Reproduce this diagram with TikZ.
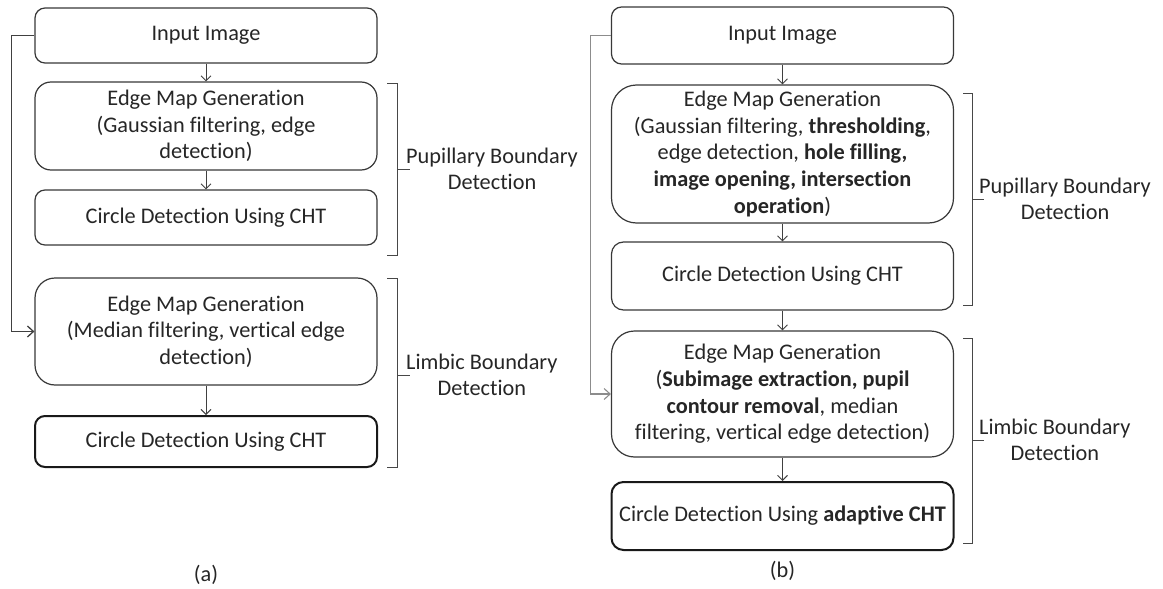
\documentclass[tikz,border=0pt]{standalone}
\usepackage{fontspec}
\setmainfont{Carlito}[RawFeature={-liga;-clig;-dlig;-calt}]
\usetikzlibrary{arrows.meta}

\begin{document}
\begin{tikzpicture}[x=1pt,y=-1pt,
  box/.style={draw=black!78, line width=1.2pt, fill=white, align=center,
    inner sep=0pt, minimum width=342pt, text=black!85,
    font=\fontsize{22.3}{26.6}\selectfont},
  lastbox/.style={box, line width=2pt, draw=black!90},
  flow/.style={draw=black!75, line width=0.9pt,
    -{Straight Barb[length=5pt,width=10pt]}},
  feed/.style={draw=black!75, line width=1.3pt,
    -{Straight Barb[length=6pt,width=11pt]}},
  feedlight/.style={draw=black!45, line width=1.1pt,
    -{Straight Barb[length=6pt,width=11pt]}},
  brace/.style={draw=black!72, line width=1pt},
  tag/.style={align=center, inner sep=0pt, text=black!85,
    font=\fontsize{22.3}{26.6}\selectfont},
]
\useasboundingbox (0,0) rectangle (1163,589);

% ---------- panel (a) ----------
\node[box, minimum height=55pt, rounded corners=10pt] (ia) at (206,35.5) {Input Image};
\node[box, minimum height=88pt, rounded corners=16pt] (ea1) at (206,126)
  {Edge Map Generation\\(Gaussian filtering, edge\\detection)};
\node[box, minimum height=55pt, rounded corners=10pt] (ca1) at (206,217.5)
  {Circle Detection Using CHT};
\node[box, minimum height=107pt, rounded corners=20pt] (ea2) at (206,331.5)
  {Edge Map Generation\\(Median filtering, vertical edge\\detection)};
\node[lastbox, minimum height=51pt, rounded corners=10pt] (ca2) at (206,441.5)
  {Circle Detection Using CHT};

\draw[flow] (ia) -- (ea1);
\draw[flow] (ea1) -- (ca1);
\draw[flow] (ea2) -- (ca2);
\draw[feed] (ia.west) -- ++(-23,0) |- (ea2.west);

% group brackets of panel (a)
\draw[brace] (387,83) -- (397,83) -- (397,255) -- (387,255);
\draw[brace] (397,169) -- (410,169);
\node[tag, anchor=west] (pa) at (406,169) {Pupillary Boundary\\Detection};
\draw[brace] (387,278) -- (397,278) -- (397,467) -- (387,467);
\draw[brace] (397,375) -- (410,375);
\node[tag, anchor=west] (la) at (406,375) {Limbic Boundary\\Detection};

\node[tag] (capa) at (206,575) {(a)};

% ---------- panel (b) ----------
\node[box, minimum height=57pt, rounded corners=10pt] (ib) at (782.5,35.5) {Input Image};
\node[box, minimum height=138pt, rounded corners=25pt] (eb1) at (782.5,154)
  {Edge Map Generation\\(Gaussian filtering, \textbf{thresholding},\\
   edge detection, \textbf{hole filling,}\\\textbf{image opening, intersection}\\
   \textbf{operation})};
\node[box, minimum height=68pt, rounded corners=12pt] (cb1) at (782.5,276)
  {Circle Detection Using CHT};
\node[box, minimum height=126pt, rounded corners=23pt] (eb2) at (782.5,394)
  {Edge Map Generation\\(\textbf{Subimage extraction, pupil}\\
   \textbf{contour removal}, median\\filtering, vertical edge detection)};
\node[lastbox, minimum height=68pt, rounded corners=12pt] (cb2) at (782.5,516)
  {Circle Detection Using \textbf{adaptive CHT}};

\draw[flow] (ib) -- (eb1);
\draw[flow] (eb1) -- (cb1);
\draw[flow] (cb1) -- (eb2);
\draw[flow] (eb2) -- (cb2);
\draw[feedlight] (ib.west) -- ++(-20,0) |- (eb2.west);

% group brackets of panel (b)
\draw[brace] (963,93) -- (972,93) -- (972,305) -- (963,305);
\draw[brace] (972,199) -- (984,199);
\node[tag, anchor=west] (pb) at (979,199) {Pupillary Boundary\\Detection};
\draw[brace] (963,338) -- (972,338) -- (972,543) -- (963,543);
\draw[brace] (972,440) -- (984,440);
\node[tag, anchor=west] (lb) at (979,440) {Limbic Boundary\\Detection};

\node[tag] (capb) at (782.5,571) {(b)};
\end{tikzpicture}
\end{document}
